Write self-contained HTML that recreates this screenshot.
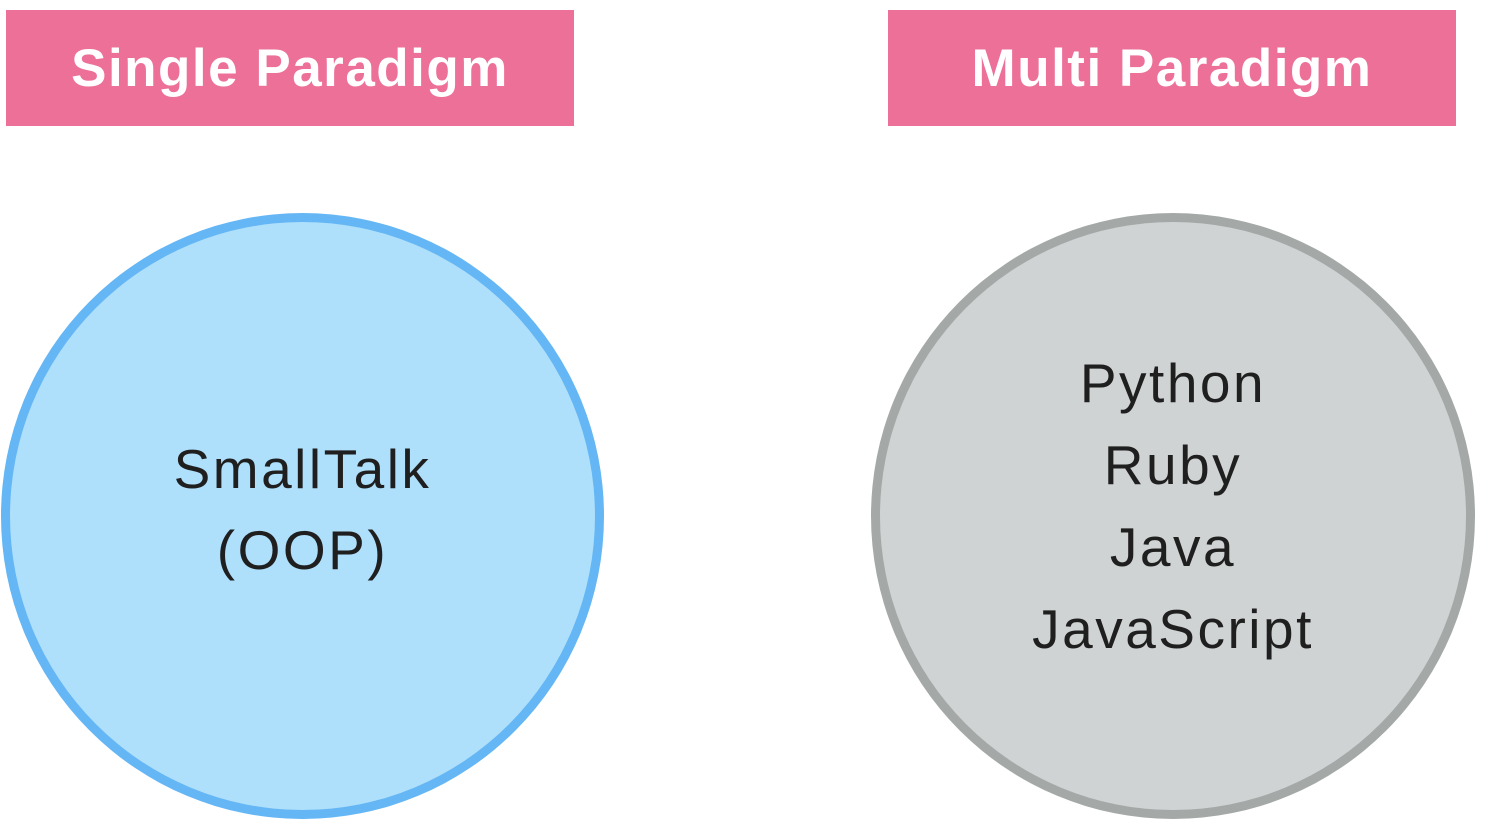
<!DOCTYPE html>
<html><head><meta charset="utf-8"><style>
html,body{margin:0;padding:0;background:#fff;width:1510px;height:834px;overflow:hidden;position:relative;font-family:"Liberation Sans",sans-serif}
.hdr{position:absolute;top:10px;height:116px;width:568px;background:#ec7098;color:#fff;font-weight:bold;font-size:53px;display:flex;align-items:center;justify-content:center;letter-spacing:1.5px}
.c{position:absolute;border-radius:50%;box-sizing:border-box;display:flex;flex-direction:column;align-items:center;justify-content:center;color:#1f1f1f;font-size:55px;letter-spacing:2.5px;text-align:center}
</style></head><body>
<div class="hdr" style="left:6px">Single Paradigm</div>
<div class="hdr" style="left:888px">Multi Paradigm</div>
<div class="c" style="left:1px;top:213px;width:603px;height:606px;background:#aedffb;border:9px solid #64b6f4;line-height:81px;padding-bottom:12px">SmallTalk<br>(OOP)</div>
<div class="c" style="left:871px;top:213px;width:604px;height:606px;background:#d0d3d4;border:9px solid #a4a9a7;line-height:82px;padding-bottom:20px">Python<br>Ruby<br>Java<br>JavaScript</div>
</body></html>
